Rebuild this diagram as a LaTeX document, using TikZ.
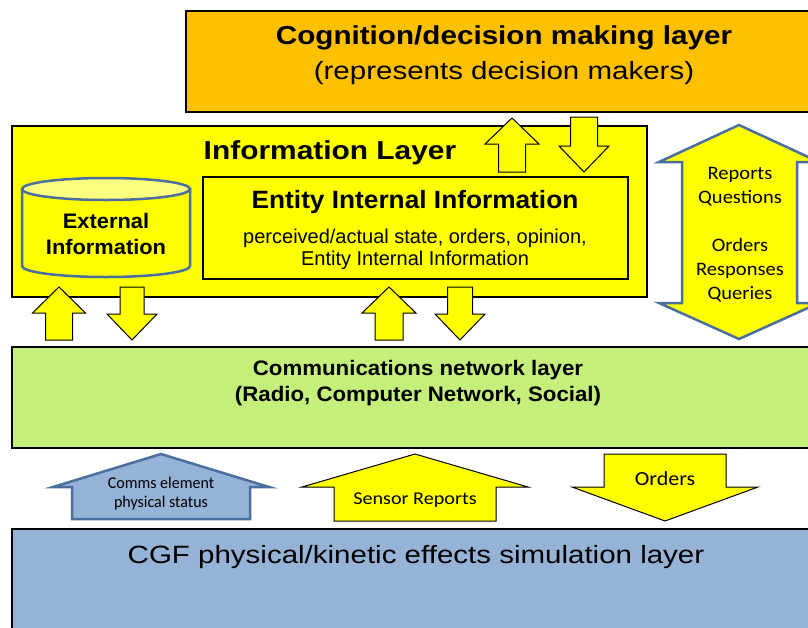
\documentclass[tikz,border=0pt]{standalone}
\usepackage{fontspec}
\setmainfont{Liberation Sans}
\newfontfamily\calfont{Carlito}
\definecolor{orng}{HTML}{FFC000}
\definecolor{yel}{HTML}{FFFF00}
\definecolor{lyel}{HTML}{FFFF80}
\definecolor{grn}{HTML}{C4EF7B}
\definecolor{blu}{HTML}{95B3D7}
\definecolor{bluline}{HTML}{4A6E9E}
\tikzset{
  layer/.style={draw=black, line width=1.5pt},
  yarrow/.style={draw=black, fill=yel, line width=1pt, line join=miter},
  barrow/.style={draw=bluline, fill=blu, line width=2.5pt, line join=miter},
  dbarrow/.style={draw=bluline, fill=yel, line width=2.5pt, line join=miter},
  txt/.style={inner sep=0pt, align=center},
}
\newcommand\wide[2]{\scalebox{#1}[1]{#2}}
% style, cx, ytip, ybase, ytail, head half width, shaft half width
\newcommand\blockarrow[7]{%
  \path[#1] (#2,#3) -- ({#2+#6},#4) -- ({#2+#7},#4) -- ({#2+#7},#5)
    -- ({#2-#7},#5) -- ({#2-#7},#4) -- ({#2-#6},#4) -- cycle;}
\begin{document}
\begin{tikzpicture}[x=1pt,y=-1pt]
\useasboundingbox (0,0) rectangle (808,627);
\clip (0,0) rectangle (808,627);
% layers
\path[layer, fill=orng] (186,11) rectangle (840,112);
\path[layer, fill=yel] (12,126) rectangle (647,297);
\path[layer, fill=yel, line width=1.2pt] (203,177) rectangle (628,279);
\path[layer, fill=grn] (12,347) rectangle (840,448);
\path[layer, fill=blu] (12,529) rectangle (840,660);
% cylinder
\path[draw=bluline, line width=2.5pt, fill=yel] (22,189) -- (22,266)
  arc[start angle=180, end angle=0, x radius=84, y radius=11] -- (190,189) -- cycle;
\path[draw=bluline, line width=2.5pt, fill=lyel] (106,189) ellipse[x radius=84, y radius=11];
% small arrows
\blockarrow{yarrow}{512}{118}{144}{172}{27}{13.5}
\blockarrow{yarrow}{584}{172}{146}{117}{25}{13.5}
\blockarrow{yarrow}{59}{287}{313}{340}{26.5}{13.5}
\blockarrow{yarrow}{132}{340}{314}{287}{25}{12}
\blockarrow{yarrow}{389}{287}{313}{340}{27}{14}
\blockarrow{yarrow}{460}{340}{314}{287}{25}{12.5}
% bottom arrows
\blockarrow{barrow}{161}{454}{487}{519}{108}{89}
\blockarrow{yarrow}{415}{454}{487}{521}{113}{81}
\blockarrow{yarrow}{665}{521}{487}{454}{93}{61}
% double arrow
\path[dbarrow] (739,125) -- (819,162) -- (797,162) -- (797,303) -- (819,303)
  -- (739,339) -- (659,303) -- (682,303) -- (682,162) -- (659,162) -- cycle;
% texts
\node[txt, font=\fontsize{26}{30}\selectfont\bfseries] (cog) at (504,38) {\wide{1.14}{Cognition/decision making layer}};
\node[txt, font=\fontsize{25}{30}\selectfont] (rep) at (504,73) {\wide{1.18}{(represents decision makers)}};
\node[txt, font=\fontsize{26}{30}\selectfont\bfseries] (info) at (330,153) {\wide{1.15}{Information Layer}};
\node[txt, font=\fontsize{25}{28}\selectfont\bfseries] (ent) at (415,202) {\wide{1.05}{Entity Internal Information}};
\node[txt, font=\fontsize{20}{22}\selectfont] (entd) at (415,249) {perceived/actual state, orders, opinion,\\Entity Internal Information};
\node[txt, font=\fontsize{21}{26}\selectfont\bfseries] (ext) at (106,234) {\wide{1.04}{External}\\\wide{1.04}{Information}};
\node[txt, font=\fontsize{21}{26}\selectfont\bfseries] (com) at (418,383) {\wide{1.06}{Communications network layer}\\\wide{1.06}{(Radio, Computer Network, Social)}};
\node[txt, font=\fontsize{25}{30}\selectfont] (cgf) at (416,557) {\wide{1.18}{CGF physical/kinetic effects simulation layer}};
\node[txt, font=\calfont\fontsize{19}{24}\selectfont] (rq) at (740,187) {\wide{1.08}{Reports}\\\wide{1.08}{Questions}};
\node[txt, font=\calfont\fontsize{19}{24}\selectfont] (orq) at (740,270) {\wide{1.08}{Orders}\\\wide{1.08}{Responses}\\\wide{1.08}{Queries}};
\node[txt, font=\calfont\fontsize{16.5}{19}\selectfont] (ces) at (161,494) {\wide{0.97}{Comms element}\\\wide{0.97}{physical status}};
\node[txt, font=\calfont\fontsize{18}{20}\selectfont] (sr) at (415,500) {\wide{1.12}{Sensor Reports}};
\node[txt, font=\calfont\fontsize{20}{22}\selectfont] (ord) at (665,479) {\wide{1.1}{Orders}};
\end{tikzpicture}
\end{document}
